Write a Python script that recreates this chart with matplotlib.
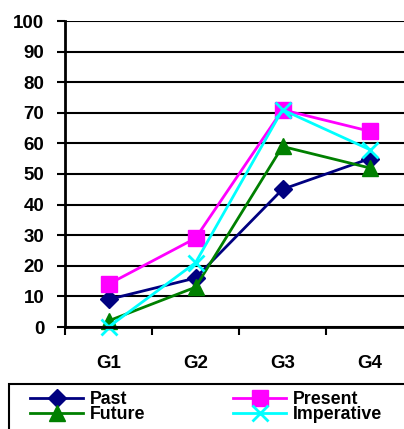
import matplotlib
matplotlib.use("Agg")
import matplotlib.pyplot as plt
from matplotlib.ticker import FixedLocator, NullFormatter
from matplotlib.patches import Rectangle

plt.rcParams['font.family'] = ['Liberation Sans', 'DejaVu Sans']
plt.rcParams['font.weight'] = 'bold'

groups = ["G1", "G2", "G3", "G4"]
past = [9, 16, 45, 55]
present = [14, 29, 71, 64]
future = [2, 13, 59, 52]
imperative = [0, 21, 71, 58]
y_ticks = [0, 10, 20, 30, 40, 50, 60, 70, 80, 90, 100]

FS = 13.5
LFS = 12.8

W, H = 404, 429
fig = plt.figure(figsize=(W / 100, H / 100), dpi=100)
ax = fig.add_axes([65 / W, 1 - 327 / H, (413 - 65) / W, (327 - 21) / H])

x = list(range(len(groups)))
l_past, = ax.plot(x, past, color="#000080", marker="D", markersize=9, lw=2, label="Past", clip_on=False)
l_pres, = ax.plot(x, present, color="#FF00FF", marker="s", markersize=11, lw=2, label="Present", clip_on=False)
l_fut, = ax.plot(x, future, color="#008000", marker="^", markersize=11, lw=2, label="Future", clip_on=False)
l_imp, = ax.plot(x, imperative, color="#00FFFF", marker="x", markersize=11, mew=2, lw=2, label="Imperative", clip_on=False)

ax.set_xlim(-0.5, 3.5)
ax.set_ylim(0, 100)
ax.set_yticks(y_ticks)
ax.set_yticklabels([str(v) for v in y_ticks])
for lbl in ax.get_yticklabels():
    lbl.set_fontsize(FS)
    lbl.set_fontweight('bold')
ax.yaxis.grid(True, color="black", lw=1.5)
ax.set_axisbelow(True)

ax.xaxis.set_major_locator(FixedLocator([-0.5, 0.5, 1.5, 2.5, 3.5]))
ax.xaxis.set_major_formatter(NullFormatter())
ax.xaxis.set_minor_locator(FixedLocator(x))
ax.set_xticklabels(groups, minor=True)
for lbl in ax.get_xticklabels(minor=True):
    lbl.set_fontsize(FS)
    lbl.set_fontweight('bold')
ax.tick_params(axis='x', which='minor', length=0, pad=20)
ax.tick_params(axis='x', which='major', length=6, width=1.5, direction='out')
ax.tick_params(axis='y', length=6, width=1.5, direction='out', pad=9)

for s in ["top", "right"]:
    ax.spines[s].set_visible(False)
ax.spines["left"].set_linewidth(2)
ax.spines["bottom"].set_linewidth(2)

# legend frame spanning the bottom of the figure
fig.add_artist(Rectangle((9 / W, -0.01), 1.05 - 9 / W, (429 - 384) / H + 0.01,
                         transform=fig.transFigure, facecolor="white",
                         edgecolor="black", lw=1.5))

leg_kw = dict(loc="upper left", frameon=False, prop={'size': LFS, 'weight': 'bold'},
              handlelength=3.0, handletextpad=0.35, labelspacing=-0.1,
              borderpad=0, borderaxespad=0)
leg1 = fig.legend([l_past, l_fut], ["Past", "Future"],
                  bbox_to_anchor=(30 / W, 1 - 391 / H), **leg_kw)
leg2 = fig.legend([l_pres, l_imp], ["Present", "Imperative"],
                  bbox_to_anchor=(233 / W, 1 - 391 / H), **leg_kw)

fig.savefig("out.png", dpi=100)
